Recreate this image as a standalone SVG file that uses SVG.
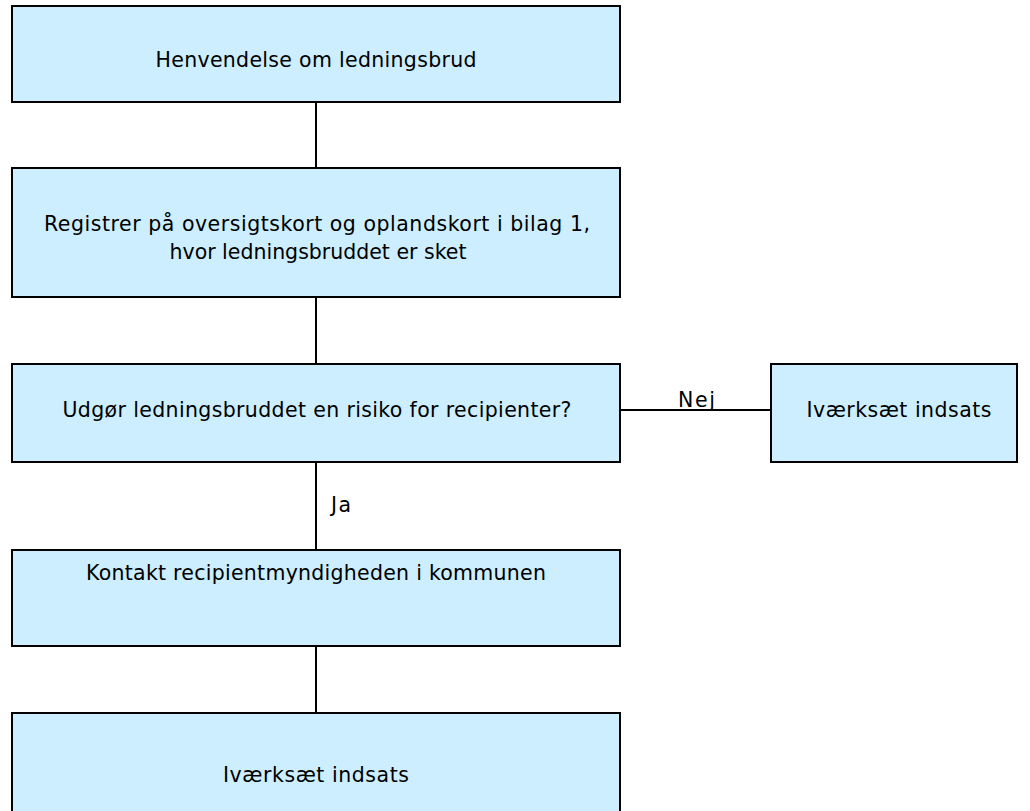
<svg xmlns="http://www.w3.org/2000/svg" width="1030" height="811" viewBox="0 0 1030 811">
<style>
.box{fill:#cceeff;stroke:#000;stroke-width:2}
.t{font-family:"DejaVu Sans",Verdana,sans-serif;font-size:20.5px;fill:#000;text-anchor:middle}
.l{font-family:"DejaVu Sans",Verdana,sans-serif;font-size:20.5px;fill:#000}
.c{stroke:#000;stroke-width:2;fill:none}
</style>
<rect width="1030" height="811" fill="#fff"/>
<g id="connectors">
<line class="c" x1="316" y1="102" x2="316" y2="168"/>
<line class="c" x1="316" y1="297" x2="316" y2="364"/>
<line class="c" x1="620" y1="410" x2="771" y2="410"/>
<line class="c" x1="316" y1="462" x2="316" y2="550"/>
<line class="c" x1="316" y1="646" x2="316" y2="713"/>
<text class="l" x="678" y="407" textLength="37">Nej</text>
<text class="l" x="331" y="512" textLength="20">Ja</text>
</g>
<g id="n1"><rect class="box" x="12" y="6" width="608" height="96"/><text class="t" x="316" y="67" textLength="321">Henvendelse om ledningsbrud</text></g>
<g id="n2"><rect class="box" x="12" y="168" width="608" height="129"/><text class="t" x="317" y="231" textLength="546">Registrer på oversigtskort og oplandskort i bilag 1,</text><text class="t" x="318" y="259" textLength="297">hvor ledningsbruddet er sket</text></g>
<g id="n3"><rect class="box" x="12" y="364" width="608" height="98"/><text class="t" x="317" y="417" textLength="509">Udgør ledningsbruddet en risiko for recipienter?</text></g>
<g id="n4"><rect class="box" x="771" y="364" width="246" height="98"/><text class="t" x="899" y="417" textLength="185">Iværksæt indsats</text></g>
<g id="n5"><rect class="box" x="12" y="550" width="608" height="96"/><text class="t" x="316" y="580" textLength="460">Kontakt recipientmyndigheden i kommunen</text></g>
<g id="n6"><rect class="box" x="12" y="713" width="608" height="110"/><text class="t" x="316" y="782" textLength="186">Iværksæt indsats</text></g>
</svg>
